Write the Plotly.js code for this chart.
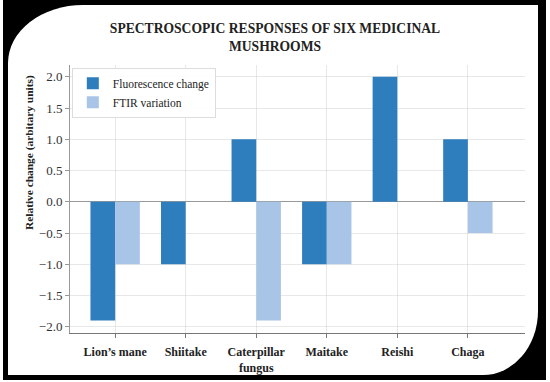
<!DOCTYPE html>
<html>
<head>
<meta charset="utf-8">
<script src="https://cdn.plot.ly/plotly-3.0.1.min.js"></script>
<style>
  html, body { margin: 0; padding: 0; background: #ffffff; }
  #frame { position: absolute; left: 3px; top: 0px; width: 543px; height: 380px; background: #000; }
  #inner { position: absolute; left: 5px; top: 5px; width: 530px; height: 370px; background: #fff;
           border-top-left-radius: 75px 58px; border-bottom-right-radius: 55px 64px; }
  #chart { position: absolute; left: 0; top: 0; width: 550px; height: 382px; }
</style>
</head>
<body>
<div id="frame"><div id="inner"></div></div>
<div id="chart"></div>
<script>
const categories = ["Lion’s mane", "Shiitake", "Caterpillar<br>fungus", "Maitake", "Reishi", "Chaga"];
const fluorescence = [-1.9, -1.0, 1.0, -1.0, 2.0, 1.0];
const ftir = [-1.0, 0, -1.9, -1.0, 0, -0.5];
const yTicks = [-2.0, -1.5, -1.0, -0.5, 0.0, 0.5, 1.0, 1.5, 2.0];
const seriesNames = ["Fluorescence change", "FTIR variation"];
const yTitle = "Relative change (arbitary units)";

const serif = "Liberation Serif";

const traces = [
  { type: "bar", x: categories, y: fluorescence, name: seriesNames[0],
    marker: { color: "#2e7dbc", line: { width: 0 } } },
  { type: "bar", x: categories, y: ftir, name: seriesNames[1],
    marker: { color: "#a8c5e7", line: { width: 0 } } }
];

const layout = {
  width: 550, height: 382,
  paper_bgcolor: "rgba(0,0,0,0)",
  plot_bgcolor: "rgba(0,0,0,0)",
  margin: { l: 70, r: 25, t: 65, b: 49 },
  barmode: "group", bargap: 0.3, bargroupgap: 0,
  showlegend: true,
  title: {
    text: "<b>SPECTROSCOPIC RESPONSES OF SIX MEDICINAL<br>MUSHROOMS</b>",
    x: 0.5, xanchor: "center", y: 0.913, yanchor: "top",
    font: { family: serif, size: 13.6, color: "#222" }
  },
  font: { family: serif, size: 12, color: "#333" },
  xaxis: {
    type: "category",
    range: [-0.64, 5.81],
    showgrid: true, gridcolor: "rgba(190,190,190,0.35)", gridwidth: 1,
    showline: true, linecolor: "#777", linewidth: 1,
    ticks: "outside", ticklen: 4, tickcolor: "#777",
    ticklabelstandoff: 4,
    tickfont: { family: serif, size: 12, color: "#222", weight: "bold" },
    layer: "above traces",
    zeroline: false
  },
  yaxis: {
    range: [-2.1, 2.19],
    tickvals: yTicks, tickformat: ".1f",
    showgrid: true, gridcolor: "rgba(190,190,190,0.35)", gridwidth: 1,
    showline: true, linecolor: "#999", linewidth: 1,
    ticks: "outside", ticklen: 4, tickcolor: "#999",
    tickfont: { family: serif, size: 13, color: "#333" },
    zeroline: true, zerolinecolor: "#999", zerolinewidth: 1,
    layer: "above traces"
  },
  annotations: [{
    text: "<b>" + yTitle + "</b>", textangle: -90,
    xref: "paper", yref: "paper",
    x: -41 / 455, y: (333 - 153) / 268, xanchor: "center", yanchor: "middle",
    showarrow: false,
    font: { family: serif, size: 11.4, color: "#222" }
  }],
  legend: {
    x: 0.004, y: 0.99, xanchor: "left", yanchor: "top",
    bgcolor: "rgba(255,255,255,0.9)", bordercolor: "#ddd", borderwidth: 1,
    font: { family: serif, size: 11.5, color: "#222" },
    itemwidth: 30, tracegroupgap: 0
  }
};

Plotly.newPlot("chart", traces, layout, { displayModeBar: false, staticPlot: true });
</script>
</body>
</html>
